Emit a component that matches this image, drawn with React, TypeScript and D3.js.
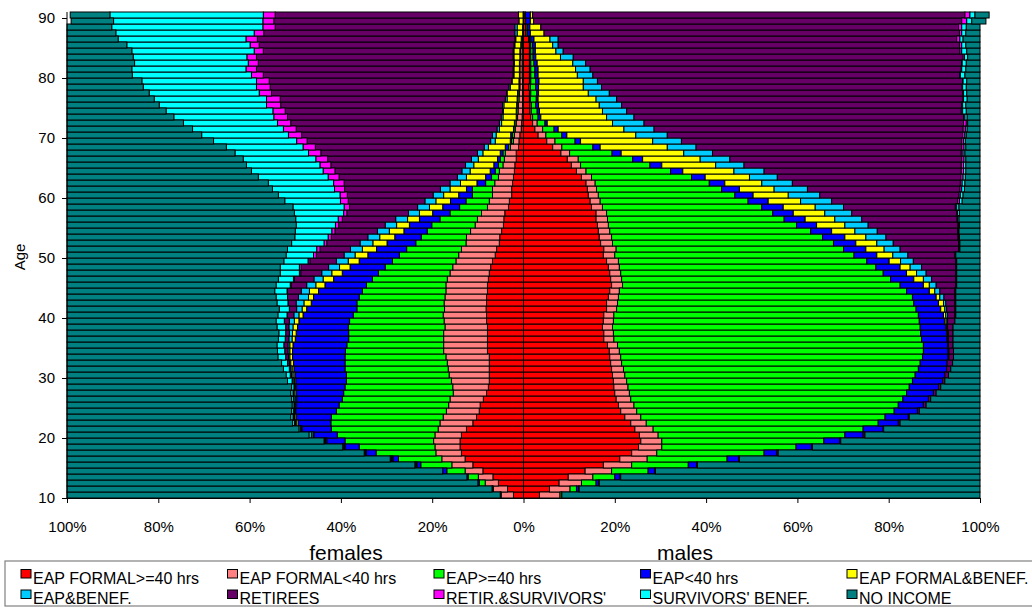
import * as d3 from "d3";
import { useEffect, useRef } from "react";

// ages 10..90, one bar per age
const ages = d3.range(10, 91);

const seriesLabels = [
  "EAP FORMAL>=40 hrs",
  "EAP FORMAL<40 hrs",
  "EAP>=40 hrs",
  "EAP<40 hrs",
  "EAP FORMAL&BENEF.",
  "EAP&BENEF.",
  "RETIREES",
  "RETIR.&SURVIVORS'",
  "SURVIVORS' BENEF.",
  "NO INCOME",
];

const seriesColors = [
  "#ff0000", "#ff8080", "#00ff00", "#0000ff", "#ffff00",
  "#00ccff", "#660066", "#ff00ff", "#00ffff", "#008080",
];

// ---- females (% of each age), age 10 -> 90
const fFormal40 = [
  2.2, 3.5, 5.5, 6.7, 8.9, 11.1, 12.8, 13.6, 13.9, 13.9,
  13.6, 12.5, 11.1, 10.3, 9.7, 9.5, 8.8, 8.1, 7.7, 7.5,
  7.5, 7.5, 7.5, 7.5, 7.9, 7.9, 7.9, 7.9, 7.9, 8.1,
  8.1, 8.2, 8.1, 8.1, 7.9, 7.9, 7.7, 7.5, 7.2, 6.8,
  6.2, 5.9, 5.3, 5.2, 4.8, 4.4, 4.3, 4.1, 3.3, 3.1,
  2.6, 2.6, 2.4, 2.2, 2.0, 1.9, 1.6, 1.6, 1.1, 1.0,
  0.8, 0.5, 0.4, 0.3, 0.2, 0.2, 0.2, 0.2, 0.2, 0.2,
  0.3, 0.3, 0.3, 0.3, 0.3, 0.2, 0.2, 0.2, 0.2, 0.1,
  0.1,
];
const fFormalLt40 = [
  2.7, 3.1, 2.9, 3.2, 3.9, 4.6, 5.1, 5.6, 5.5, 5.8,
  5.8, 6.2, 7.2, 7.3, 7.2, 6.9, 7.3, 7.3, 7.8, 8.3,
  8.8, 9.0, 9.2, 9.5, 9.6, 9.6, 9.6, 9.6, 9.3, 9.3,
  9.5, 9.1, 9.3, 9.1, 9.1, 9.1, 9.0, 8.6, 8.3, 8.0,
  8.0, 7.7, 7.3, 7.3, 6.8, 6.2, 5.8, 5.1, 4.6, 4.4,
  4.2, 4.2, 3.9, 3.3, 3.3, 2.6, 2.6, 2.4, 1.8, 1.2,
  1.2, 1.3, 1.2, 1.0, 1.0, 0.9, 0.8, 0.7, 0.6, 0.6,
  0.5, 0.5, 0.5, 0.4, 0.4, 0.3, 0.2, 0, 0, 0,
  0,
];
const fEap40 = [
  0.1, 0.2, 1.3, 2.2, 4.0, 6.8, 9.5, 13.1, 16.6, 19.4,
  21.4, 23.4, 23.9, 24.5, 24.1, 24.0, 23.6, 24.0, 23.6, 23.0,
  22.5, 22.6, 22.4, 22.1, 21.5, 21.2, 20.8, 20.8, 21.2, 20.7,
  19.7, 19.2, 19.1, 18.8, 18.3, 17.4, 16.4, 15.7, 14.8, 13.9,
  13.0, 12.0, 11.0, 9.9, 9.5, 9.5, 8.2, 6.9, 6.1, 5.1,
  4.4, 4.4, 2.0, 1.5, 0.9, 1.0, 0.9, 0.5, 0.4, 0.4,
  0.4, 0.3, 0.3, 0.2, 0.3, 0.3, 0.3, 0.3, 0.2, 0.2,
  0.1, 0.1, 0.1, 0.1, 0.1, 0.1, 0.1, 0, 0, 0,
  0,
];
const fEapLt40 = [
  0.1, 0.1, 0.3, 0.3, 0.9, 0.8, 1.2, 2.1, 3.1, 4.0,
  5.1, 6.4, 7.2, 7.7, 8.9, 9.4, 10.0, 10.4, 10.7, 11.1,
  11.3, 11.2, 11.3, 11.5, 11.6, 11.8, 11.7, 11.5, 11.1, 11.1,
  11.0, 11.0, 10.0, 10.0, 9.6, 9.1, 8.5, 7.9, 7.7, 7.3,
  6.9, 6.6, 6.3, 5.8, 5.1, 4.9, 4.5, 3.8, 3.7, 3.4,
  3.0, 1.3, 1.9, 1.3, 1.1, 1.0, 0.6, 0.6, 0.7, 0.3,
  0.4, 0.1, 0.1, 0.1, 0.1, 0.1, 0.1, 0.1, 0, 0,
  0, 0, 0, 0, 0, 0, 0, 0, 0, 0,
  0,
];
const fFormalBenef = [
  0, 0, 0, 0, 0, 0.2, 0.2, 0.2, 0.2, 0.1,
  0.2, 0.2, 0.4, 0.3, 0.2, 0.2, 0.3, 0.3, 0.2, 0.3,
  0.4, 0.4, 0.6, 0.6, 0.6, 0.7, 0.7, 0.8, 1.0, 1.0,
  0.9, 1.0, 1.6, 1.1, 2.0, 2.0, 2.3, 2.3, 2.3, 2.4,
  2.8, 3.1, 3.1, 3.3, 3.2, 2.8, 2.6, 2.9, 2.9, 3.2,
  3.3, 3.6, 3.6, 4.2, 4.4, 4.4, 4.2, 3.8, 3.7, 3.3,
  3.2, 3.1, 2.8, 2.9, 2.8, 2.8, 2.2, 2.3, 1.9, 1.5,
  1.2, 1.2, 1.1, 1.3, 1.3, 1.3, 1.2, 1.2, 1.2, 0.9,
  1.0,
];
const fEapBenef = [
  0, 0, 0, 0, 0, 0.1, 0.2, 0.1, 0.1, 0.2,
  0.3, 0.1, 0.2, 0.2, 0.2, 0.2, 0.3, 0.3, 0.2, 0.3,
  0.3, 0.3, 0.3, 0.3, 0.4, 0.4, 0.7, 0.7, 0.9, 1.1,
  1.1, 1.2, 1.7, 2.2, 1.8, 2.0, 2.0, 2.2, 2.4, 2.6,
  2.4, 2.6, 2.8, 2.6, 2.6, 2.5, 2.6, 2.4, 2.6, 2.4,
  2.3, 2.1, 2.3, 2.0, 1.8, 1.8, 1.5, 1.2, 0.9, 1.0,
  0.8, 0.5, 0.5, 0.4, 0.2, 0.3, 0.4, 0.1, 0.3, 0.1,
  0.2, 0.2, 0.2, 0.2, 0.2, 0.2, 0.2, 0.5, 0.5, 0,
  0,
];
const fRetirees = [
  0, 0, 0, 0, 0, 0.1, 0.1, 0.1, 0.1, 0.1,
  0.1, 0.1, 0.2, 0.2, 0.1, 0.1, 0.1, 0.1, 0.1, 0.2,
  0.3, 0.3, 0.4, 0.6, 0.7, 0.9, 0.8, 0.8, 0.7, 1.1,
  1.5, 1.6, 1.8, 2.4, 3.0, 3.4, 4.3, 4.6, 6.0, 5.8,
  6.1, 6.7, 7.3, 8.0, 9.3, 10.2, 11.7, 13.5, 14.9, 16.8,
  18.8, 21.0, 23.2, 25.9, 27.8, 29.5, 31.5, 34.3, 37.0, 40.2,
  41.8, 44.0, 45.7, 46.8, 47.6, 48.6, 49.3, 51.5, 52.3, 53.1,
  54.7, 56.2, 55.9, 56.2, 54.7, 55.8, 56.4, 55.0, 52.5, 53.7,
  53.3,
];
const fRetSurv = [
  0, 0, 0, 0, 0, 0, 0, 0, 0, 0,
  0, 0, 0, 0, 0, 0, 0, 0, 0, 0,
  0, 0, 0, 0, 0, 0, 0, 0, 0, 0,
  0, 0, 0, 0, 0.1, 0.2, 0.2, 0.3, 0.4, 0.4,
  0.6, 0.7, 0.6, 0.7, 0.7, 0.7, 0.9, 0.7, 1.2, 1.7,
  1.6, 2.2, 2.3, 2.4, 2.6, 2.4, 2.6, 2.7, 2.7, 2.3,
  2.9, 2.8, 2.9, 3.0, 2.7, 3.1, 3.0, 2.7, 3.0, 2.8,
  2.6, 2.3, 2.2, 2.1, 2.0, 2.0, 2.5, 2.1, 2.7, 2.4,
  2.6,
];
const fSurvivors = [
  0, 0, 0, 0, 0, 0.1, 0.1, 0.1, 0.1, 0.2,
  0.5, 0.3, 0.4, 0.5, 0.4, 0.4, 0.4, 0.5, 0.5, 1.0,
  0.9, 1.3, 1.3, 1.7, 1.6, 1.5, 1.5, 1.5, 1.9, 1.8,
  2.0, 2.2, 2.4, 2.5, 2.7, 3.1, 3.3, 4.2, 4.2, 5.3,
  6.0, 6.4, 7.1, 7.3, 8.0, 8.6, 9.3, 10.8, 11.2, 12.2,
  13.5, 13.6, 14.3, 15.3, 15.7, 16.1, 15.9, 16.1, 16.8, 18.2,
  19.0, 19.9, 20.6, 21.9, 23.4, 23.5, 24.6, 24.1, 24.8, 25.1,
  26.1, 25.0, 24.9, 24.9, 26.8, 27.0, 28.0, 30.3, 33.1, 32.7,
  33.6,
];
const fNoIncome = [
  94.9, 93.1, 90.0, 87.6, 82.3, 76.2, 70.8, 65.1, 60.4, 56.3,
  53.0, 50.8, 49.4, 49.0, 49.2, 49.3, 49.2, 49.0, 49.2, 48.3,
  48.0, 47.4, 47.0, 46.2, 46.1, 46.0, 46.3, 46.4, 46.0, 45.8,
  46.2, 46.5, 46.0, 45.8, 45.5, 45.8, 46.3, 46.7, 46.7, 47.5,
  48.0, 48.3, 49.2, 49.9, 50.0, 50.2, 50.1, 49.8, 49.5, 47.7,
  46.3, 45.0, 44.1, 41.9, 40.4, 39.3, 38.6, 36.8, 34.9, 32.1,
  29.5, 27.5, 25.5, 23.4, 21.7, 20.2, 19.1, 18.0, 16.7, 16.4,
  14.3, 14.2, 14.8, 14.5, 14.2, 13.1, 11.2, 10.7, 9.8, 9.3,
  8.7,
];

// ---- males (% of each age), age 10 -> 90
const mFormal40 = [
  3.5, 5.7, 7.8, 9.8, 13.5, 17.5, 21.1, 23.7, 25.2, 25.7,
  25.4, 24.4, 23.5, 22.2, 21.3, 20.8, 20.3, 20.0, 19.8, 19.7,
  19.5, 19.3, 19.1, 18.9, 18.8, 18.4, 17.6, 17.6, 17.3, 17.5,
  17.6, 18.2, 18.2, 18.6, 18.9, 19.3, 19.1, 18.9, 18.6, 18.2,
  17.5, 17.6, 16.9, 16.6, 16.4, 16.2, 15.9, 15.9, 14.9, 14.6,
  14.2, 14.0, 13.7, 12.7, 11.6, 10.5, 9.6, 8.2, 6.4, 5.1,
  3.2, 2.5, 2.0, 1.6, 1.4, 1.4, 1.3, 1.3, 1.2, 1.3,
  1.3, 1.3, 1.3, 1.3, 1.3, 1.3, 1.1, 0.5, 0.5, 0.4,
  0.3,
];
const mFormalLt40 = [
  4.5, 4.5, 4.9, 5.4, 5.8, 6.2, 6.0, 5.5, 5.1, 4.6,
  4.1, 4.0, 3.4, 3.5, 3.5, 3.4, 3.2, 3.2, 3.1, 2.9,
  2.7, 2.6, 2.4, 2.4, 2.2, 2.2, 2.2, 2.1, 2.2, 2.2,
  2.2, 2.2, 2.4, 2.2, 2.1, 2.4, 2.4, 2.4, 2.4, 2.6,
  2.5, 2.7, 2.6, 2.7, 2.5, 2.4, 2.5, 2.3, 2.4, 2.2,
  2.2, 2.0, 2.0, 2.2, 2.1, 2.0, 2.4, 1.9, 2.0, 1.8,
  1.7, 1.7, 1.0, 0.4, 0.3, 0.3, 0.2, 0.3, 0.3, 0.3,
  0.3, 0.3, 0.3, 0.3, 0.3, 0.3, 0.2, 0, 0, 0,
  0,
];
const mEap40 = [
  0.3, 1.4, 3.2, 4.8, 8.0, 12.4, 17.5, 23.5, 29.4, 35.5,
  40.9, 46.0, 50.8, 53.5, 56.4, 57.9, 59.6, 60.7, 61.6, 62.6,
  63.6, 64.6, 65.4, 66.1, 66.6, 67.0, 67.4, 67.3, 67.4, 67.0,
  66.7, 65.6, 64.9, 64.4, 62.9, 60.8, 58.9, 57.5, 56.2, 54.4,
  52.4, 49.8, 48.4, 46.2, 44.0, 41.2, 38.7, 36.4, 34.9, 32.4,
  29.9, 27.4, 25.0, 21.9, 18.5, 15.2, 11.9, 9.3, 6.8, 4.4,
  3.5, 2.5, 1.7, 1.2, 1.3, 1.0, 1.3, 1.3, 1.2, 1.1,
  0.9, 0.9, 0.7, 0.5, 0.5, 0.4, 0.3, 0.3, 0.3, 0.1,
  0.1,
];
const mEapLt40 = [
  0.1, 0.5, 0.6, 1.1, 1.5, 1.8, 2.5, 2.8, 3.4, 3.5,
  4.0, 4.4, 4.4, 5.1, 5.1, 5.5, 5.6, 5.9, 6.4, 6.6,
  6.5, 6.2, 5.9, 5.6, 5.4, 5.3, 5.6, 5.7, 5.6, 5.6,
  5.5, 5.4, 5.4, 5.2, 5.0, 5.1, 5.1, 5.1, 5.3, 4.9,
  5.0, 4.9, 4.9, 4.9, 4.6, 4.4, 4.6, 4.5, 4.7, 4.4,
  4.0, 3.9, 3.4, 3.0, 2.7, 2.6, 2.2, 2.0, 1.6, 1.2,
  1.1, 0.9, 0.5, 0.6, 0.5, 0.6, 0.4, 0.4, 0.6, 0.7,
  0.7, 0.7, 0.7, 0.6, 0.5, 0.6, 0.7, 0.7, 0.6, 1.0,
  1.1,
];
const mFormalBenef = [
  0, 0, 0, 0, 0, 0, 0, 0, 0, 0,
  0, 0, 0, 0, 0, 0, 0, 0, 0, 0,
  0, 0, 0, 0.1, 0.1, 0.1, 0.2, 0.2, 0.2, 0.3,
  0.5, 0.9, 1.1, 0.8, 1.2, 1.3, 2.1, 2.2, 2.2, 2.5,
  3.5, 4.0, 4.6, 4.6, 5.1, 6.2, 6.5, 6.9, 7.0, 7.1,
  7.7, 7.6, 8.1, 9.7, 11.2, 11.8, 12.6, 13.7, 14.7, 15.8,
  15.1, 14.4, 14.3, 14.4, 13.8, 13.3, 12.7, 10.9, 9.8, 9.7,
  8.6, 8.2, 7.8, 5.4, 4.5, 3.8, 3.5, 3.0, 2.4, 0.7,
  0.5,
];
const mEapBenef = [
  0, 0, 0, 0, 0, 0, 0, 0, 0, 0,
  0, 0, 0, 0, 0, 0, 0, 0, 0, 0,
  0, 0, 0, 0.1, 0.1, 0.1, 0.1, 0.2, 0.2, 0.3,
  0.4, 0.4, 0.5, 0.9, 1.1, 1.5, 1.8, 2.1, 2.5, 2.8,
  3.3, 3.5, 3.6, 4.4, 4.9, 5.1, 5.9, 5.9, 6.2, 6.8,
  6.9, 7.3, 6.7, 6.1, 6.6, 6.2, 6.5, 6.3, 6.3, 6.3,
  6.9, 6.6, 6.9, 6.0, 5.3, 4.9, 4.5, 4.6, 4.0, 3.1,
  3.4, 3.2, 2.8, 2.8, 1.6, 1.2, 1.8, 0, 0, 0,
  0,
];
const mRetirees = [
  0, 0.1, 0.1, 0.2, 0.1, 0.2, 0.2, 0.3, 0.2, 0.2,
  0.4, 0.1, 0.4, 0.2, 0.4, 0.6, 0.5, 0.6, 0.5, 0.5,
  0.8, 0.9, 1.2, 1.0, 1.0, 1.0, 1.0, 1.0, 1.2, 1.6,
  1.6, 1.8, 2.0, 2.4, 3.3, 4.3, 5.3, 6.5, 7.5, 9.3,
  10.3, 12.8, 14.3, 15.8, 17.6, 19.7, 20.9, 23.0, 24.5, 27.6,
  30.5, 33.4, 36.8, 40.2, 43.2, 47.6, 50.8, 54.5, 58.2, 61.4,
  64.7, 67.7, 70.0, 72.2, 73.3, 74.5, 75.9, 77.4, 79.0, 80.0,
  80.4, 81.3, 82.4, 85.4, 86.9, 87.9, 87.3, 91.0, 91.5, 93.8,
  94.7,
];
const mRetSurv = [
  0, 0, 0, 0, 0, 0, 0, 0, 0, 0,
  0, 0, 0, 0, 0, 0, 0, 0, 0, 0,
  0, 0, 0, 0, 0, 0, 0, 0, 0, 0,
  0.1, 0.1, 0.1, 0.1, 0.1, 0.1, 0.1, 0.1, 0.1, 0.1,
  0.1, 0.1, 0.1, 0.1, 0.1, 0.1, 0.1, 0.2, 0.3, 0.4,
  0.3, 0.4, 0.4, 0.5, 0.5, 0.5, 0.5, 0.4, 0.5, 0.4,
  0.5, 0.5, 0.6, 0.3, 0.3, 0.2, 0.1, 0.2, 0.1, 0.1,
  0.1, 0.1, 0.1, 0.3, 0.4, 0.5, 0.7, 0.5, 0.7, 1.1,
  1.1,
];
const mSurvivors = [
  0, 0, 0, 0, 0, 0, 0, 0, 0, 0,
  0, 0, 0, 0, 0, 0, 0, 0, 0, 0,
  0, 0, 0, 0, 0, 0, 0, 0, 0, 0,
  0.1, 0.1, 0.1, 0.1, 0.1, 0.1, 0.1, 0.1, 0.1, 0.1,
  0.1, 0.2, 0.2, 0.2, 0.2, 0.2, 0.3, 0.4, 0.5, 0.6,
  0.6, 0.6, 0.6, 0.5, 0.5, 0.5, 0.4, 0.4, 0.4, 0.4,
  0.3, 0.4, 0.3, 0.5, 0.8, 0.7, 0.8, 0.7, 0.8, 0.8,
  1.0, 0.9, 0.9, 0.7, 1.1, 0.9, 0.7, 0.9, 1.0, 1.1,
  1.1,
];
const mNoIncome = [
  91.6, 87.8, 83.4, 78.7, 71.1, 61.9, 52.7, 44.2, 36.7, 30.5,
  25.2, 21.1, 17.5, 15.5, 13.3, 11.8, 10.8, 9.6, 8.6, 7.7,
  6.9, 6.4, 6.0, 5.8, 5.8, 5.9, 5.9, 5.9, 5.9, 5.5,
  5.3, 5.3, 5.3, 5.3, 5.3, 5.1, 5.1, 5.1, 5.1, 5.1,
  5.3, 4.4, 4.4, 4.5, 4.6, 4.5, 4.6, 4.5, 4.6, 3.9,
  3.7, 3.4, 3.3, 3.2, 3.1, 3.1, 3.1, 3.3, 3.1, 3.2,
  3.0, 2.8, 2.7, 2.8, 3.0, 3.1, 2.8, 2.9, 3.0, 2.9,
  3.3, 3.1, 3.0, 2.7, 2.9, 3.1, 3.7, 3.1, 3.0, 3.1,
  3.1,
];

const females = [fFormal40, fFormalLt40, fEap40, fEapLt40, fFormalBenef, fEapBenef, fRetirees, fRetSurv, fSurvivors, fNoIncome];
const males = [mFormal40, mFormalLt40, mEap40, mEapLt40, mFormalBenef, mEapBenef, mRetirees, mRetSurv, mSurvivors, mNoIncome];

const pctTicks = [-100, -80, -60, -40, -20, 0, 20, 40, 60, 80, 100];
const ageTicks = [10, 20, 30, 40, 50, 60, 70, 80, 90];

const FONT = "Arial, 'Liberation Sans', sans-serif";

function App() {
  const ref = useRef<SVGSVGElement>(null);

  useEffect(() => {
    if (!ref.current) return;
    const svg = d3.select(ref.current);
    svg.selectAll("*").remove();

    const x = d3.scaleLinear().domain([-100, 100]).range([67, 980]);
    const y = d3.scaleLinear().domain([10, 91]).range([498, 12]);

    const keys = seriesLabels.map((_, i) => "s" + i);
    const toRows = (cols: number[][]) =>
      ages.map((age, i) => {
        const r: any = { age };
        cols.forEach((c, k) => (r["s" + k] = c[i]));
        return r;
      });
    const stack = d3.stack<any>().keys(keys);

    const drawSide = (cols: number[][], sign: number) => {
      const layers = stack(toRows(cols));
      svg.append("g")
        .selectAll("g")
        .data(layers)
        .join("g")
        .attr("fill", (_, i) => seriesColors[i])
        .selectAll("rect")
        .data(d => d.filter(p => p[1] - p[0] > 0))
        .join("rect")
        .attr("x", d => (sign < 0 ? x(-d[1]) : x(d[0])))
        .attr("width", d => Math.abs(x(d[1]) - x(d[0])))
        .attr("y", d => y(d.data.age + 1))
        .attr("height", d => y(d.data.age) - y(d.data.age + 1))
        .attr("stroke", "#000")
        .attr("stroke-width", 1);
    };

    drawSide(females, -1);
    drawSide(males, 1);

    // axes
    const xAxis = svg.append("g")
      .attr("transform", "translate(0,498)")
      .call(
        d3.axisBottom(x)
          .tickValues(pctTicks)
          .tickFormat(d => Math.abs(+d) + "%")
          .tickSize(5)
          .tickSizeOuter(0)
      );
    xAxis.selectAll("text").attr("y", 23).attr("font-size", 15).attr("font-family", FONT).attr("fill", "#000");

    const yAxis = svg.append("g")
      .attr("transform", "translate(67,0)")
      .call(
        d3.axisLeft(y)
          .tickValues(ageTicks)
          .tickFormat(d => String(d))
          .tickSize(5)
          .tickSizeOuter(0)
      );
    yAxis.select(".domain").attr("d", `M0,${y(91)}V${y(10)}`);
    yAxis.selectAll("text").attr("x", -12).attr("font-size", 15).attr("font-family", FONT).attr("fill", "#000");

    svg.append("text")
      .attr("transform", "translate(25,257) rotate(-90)")
      .attr("text-anchor", "middle")
      .attr("font-size", 15)
      .attr("font-family", FONT)
      .text("Age");

    svg.append("text")
      .attr("x", 346).attr("y", 560)
      .attr("text-anchor", "middle")
      .attr("font-size", 21)
      .attr("font-family", FONT)
      .text("females");

    svg.append("text")
      .attr("x", 685).attr("y", 560)
      .attr("text-anchor", "middle")
      .attr("font-size", 21)
      .attr("font-family", FONT)
      .text("males");

    // legend
    svg.append("rect")
      .attr("x", 5).attr("y", 561)
      .attr("width", 1040).attr("height", 45)
      .attr("fill", "#fff")
      .attr("stroke", "#808080")
      .attr("stroke-width", 1.2);

    const legend = svg.append("g")
      .selectAll("g")
      .data(seriesLabels)
      .join("g")
      .attr("transform", (_, i) => `translate(${21 + (i % 5) * 206.5},${i < 5 ? 583.5 : 604})`);

    legend.append("rect")
      .attr("x", 0).attr("y", -14)
      .attr("width", 10).attr("height", 8.5)
      .attr("fill", (_, i) => seriesColors[i])
      .attr("stroke", "#000")
      .attr("stroke-width", 1);

    legend.append("text")
      .attr("x", 12).attr("y", 0)
      .attr("font-size", 16)
      .attr("font-family", FONT)
      .text(d => d);
  }, []);

  return (
    <svg
      ref={ref}
      width={1032}
      height={615}
      style={{ position: "absolute", left: 0, top: 0, background: "#fff" }}
    />
  );
}

export default App;
